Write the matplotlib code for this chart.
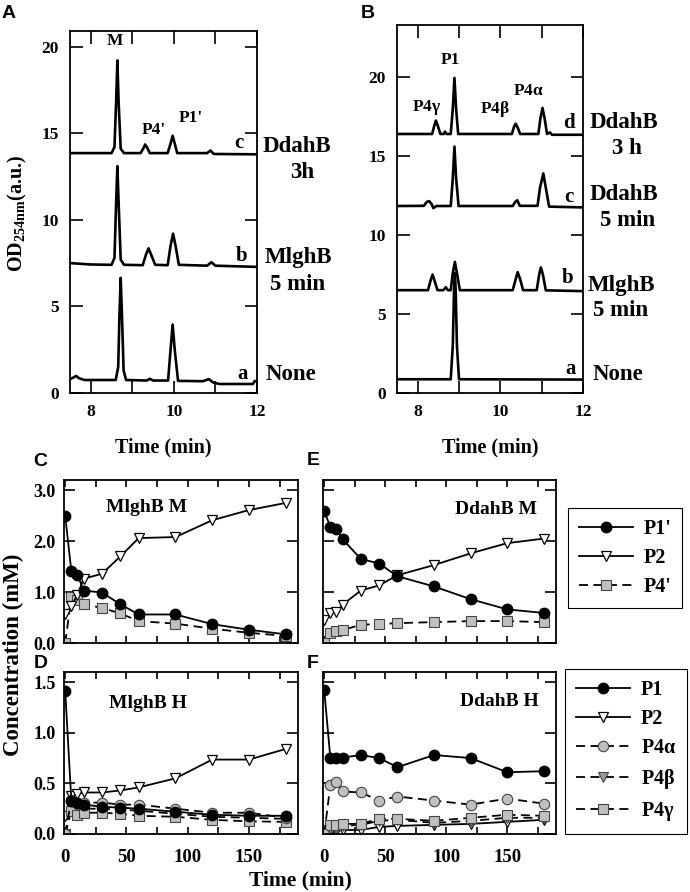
import matplotlib.pyplot as plt

plt.rcParams['font.family'] = ['Liberation Serif', 'DejaVu Serif']
plt.rcParams['font.weight'] = 'bold'
plt.rcParams['mathtext.fontset'] = 'custom'
plt.rcParams['mathtext.rm'] = 'Liberation Serif:bold'
plt.rcParams['mathtext.it'] = 'Liberation Serif:bold'
plt.rcParams['mathtext.bf'] = 'Liberation Serif:bold'
plt.rcParams['axes.linewidth'] = 1.3

W, H = 690, 892

# ---------------- chromatograms (panel A) ----------------
a_none_t = [7.5, 7.6, 7.65, 7.72, 7.85, 8.6, 8.66, 8.69, 8.72, 8.75, 8.79, 8.85, 9.35, 9.42, 9.5,
            9.86, 9.92, 9.97, 10.02, 10.1, 10.7, 10.84, 10.95, 11.1, 11.9, 11.95, 12.0]
a_none_v = [0.8, 0.92, 0.98, 0.85, 0.75, 0.75, 1.5, 4.5, 6.65, 4.5, 1.3, 0.75, 0.72, 0.82, 0.72,
            0.72, 2.5, 3.95, 2.5, 0.7, 0.68, 0.8, 0.6, 0.52, 0.52, 0.7, 0.65]
a_mlgh_t = [7.5, 8.0, 8.5, 8.57, 8.61, 8.64, 8.67, 8.72, 8.8, 9.25, 9.33, 9.39, 9.45, 9.55,
            9.85, 9.92, 9.98, 10.04, 10.12, 10.8, 10.9, 11.0, 12.0]
a_mlgh_v = [7.5, 7.42, 7.4, 7.8, 11.0, 13.1, 11.0, 7.7, 7.4, 7.38, 8.0, 8.35, 8.0, 7.4,
            7.38, 8.5, 9.2, 8.5, 7.4, 7.35, 7.55, 7.35, 7.28]
a_ddah_t = [7.5, 8.5, 8.57, 8.61, 8.64, 8.67, 8.72, 8.8, 9.2, 9.27, 9.31, 9.36, 9.42,
            9.85, 9.92, 9.97, 10.02, 10.08, 10.8, 10.88, 10.96, 12.0]
a_ddah_v = [13.85, 13.85, 14.2, 16.8, 19.2, 16.8, 14.1, 13.85, 13.85, 14.15, 14.35, 14.15, 13.85,
            13.85, 14.4, 14.85, 14.4, 13.85, 13.85, 14.0, 13.8, 13.78]

# ---------------- chromatograms (panel B) ----------------
b_none_t = [7.5, 8.8, 8.85, 8.88, 8.9, 8.92, 8.95, 9.0, 12.0]
b_none_v = [0.87, 0.87, 3.0, 6.5, 7.6, 6.5, 3.0, 0.87, 0.85]
b_mlgh_t = [7.5, 8.25, 8.31, 8.36, 8.41, 8.48, 8.62, 8.68, 8.73, 8.8, 8.85, 8.9, 8.95, 9.02,
            10.3, 10.37, 10.42, 10.48, 10.55, 10.88, 10.94, 10.98, 11.03, 11.1, 12.0]
b_mlgh_v = [6.51, 6.51, 7.1, 7.5, 7.1, 6.51, 6.51, 6.7, 6.51, 6.51, 7.6, 8.3, 7.6, 6.51,
            6.51, 7.2, 7.65, 7.2, 6.51, 6.51, 7.5, 7.95, 7.5, 6.5, 6.45]
b_dd5_t = [7.5, 8.15, 8.22, 8.28, 8.34, 8.38, 8.45, 8.8, 8.85, 8.89, 8.93, 8.99, 9.1,
           10.3, 10.36, 10.41, 10.47, 10.9, 10.96, 11.04, 11.1, 11.18, 12.0]
b_dd5_v = [11.84, 11.85, 12.1, 12.15, 11.95, 11.7, 11.84, 11.84, 13.6, 15.6, 13.6, 11.84, 11.84,
           11.84, 12.1, 12.2, 11.85, 11.85, 13.0, 13.9, 13.0, 11.8, 11.75]
b_dd3_t = [7.5, 8.35, 8.4, 8.44, 8.49, 8.55, 8.63, 8.66, 8.7, 8.8, 8.85, 8.89, 8.93, 8.98, 9.1,
           10.28, 10.33, 10.37, 10.42, 10.48, 10.92, 10.97, 11.02, 11.07, 11.13, 11.2, 11.25, 12.0]
b_dd3_v = [16.4, 16.4, 16.9, 17.25, 16.9, 16.4, 16.4, 16.55, 16.4, 16.4, 18.0, 19.95, 18.0, 16.4, 16.4,
           16.4, 16.85, 17.05, 16.8, 16.4, 16.4, 17.4, 18.05, 17.4, 16.4, 16.5, 16.35, 16.35]

# ---------------- kinetics (panels C-F) ----------------
times = [0, 5, 10, 15, 30, 45, 60, 90, 120, 150, 180]

c_p1 = [2.49, 1.41, 1.34, 1.03, 0.99, 0.76, 0.56, 0.56, 0.37, 0.26, 0.17]
c_p2 = [0.56, 0.72, 0.95, 1.26, 1.36, 1.70, 2.06, 2.08, 2.41, 2.61, 2.75]
c_p4 = [0.0, 0.90, 0.84, 0.76, 0.69, 0.58, 0.43, 0.38, 0.28, 0.20, 0.14]

e_p1 = [2.59, 2.28, 2.23, 2.04, 1.65, 1.56, 1.31, 1.11, 0.86, 0.66, 0.59]
e_p2 = [0.46, 0.58, 0.60, 0.75, 1.03, 1.13, 1.33, 1.53, 1.76, 1.96, 2.05]
e_p4 = [0.0, 0.20, 0.23, 0.25, 0.36, 0.37, 0.39, 0.41, 0.43, 0.43, 0.41]

d_p1 = [1.41, 0.33, 0.31, 0.29, 0.27, 0.26, 0.25, 0.22, 0.19, 0.18, 0.18]
d_p2 = [0.18, 0.38, 0.40, 0.41, 0.41, 0.43, 0.46, 0.55, 0.735, 0.735, 0.84]
d_p4a = [0.0, 0.34, 0.31, 0.31, 0.31, 0.29, 0.29, 0.25, 0.21, 0.21, 0.16]
d_p4b = [0.0, 0.27, 0.26, 0.25, 0.25, 0.24, 0.23, 0.20, 0.17, 0.16, 0.15]
d_p4g = [0.0, 0.23, 0.19, 0.21, 0.21, 0.20, 0.18, 0.17, 0.14, 0.125, 0.12]

f_p1 = [1.42, 0.755, 0.755, 0.755, 0.78, 0.75, 0.66, 0.78, 0.75, 0.61, 0.62]
f_p2 = [0.0, 0.02, 0.03, 0.04, 0.04, 0.07, 0.08, 0.09, 0.10, 0.12, 0.14]
f_p4a = [0.0, 0.48, 0.51, 0.42, 0.41, 0.33, 0.37, 0.33, 0.29, 0.35, 0.30]
f_p4b = [0.0, 0.05, 0.06, 0.08, 0.09, 0.13, 0.14, 0.11, 0.13, 0.16, 0.16]
f_p4g = [0.0, 0.085, 0.09, 0.10, 0.10, 0.15, 0.15, 0.13, 0.16, 0.19, 0.18]


def rect(left, top, right, bottom):
    # pixel box -> figure fraction
    return [left / W, 1 - bottom / H, (right - left) / W, (bottom - top) / H]


def ftext(x, y, s, **kw):
    fig.text(x / W, 1 - y / H, s, **kw)


fig = plt.figure(figsize=(W / 100, H / 100), dpi=100)


def chrom_axes(box, ymax):
    ax = fig.add_axes(box)
    ax.set_xlim(7.5, 12)
    ax.set_ylim(0, ymax)
    ax.set_xticks([8, 10, 12])
    ax.set_xticks([9, 11], minor=True)
    ax.set_yticks([0, 5, 10, 15, 20])
    ax.tick_params(which='both', direction='in', top=True, right=True,
                   length=9, width=1.2, labelsize=12.5, pad=8)
    return ax


axA = chrom_axes(rect(70, 31, 257, 393), 20.9)
for t, v in [(a_none_t, a_none_v), (a_mlgh_t, a_mlgh_v), (a_ddah_t, a_ddah_v)]:
    axA.plot(t, v, color='black', lw=1.9)
for x, y, s in [(8.58, 20.3, 'M'), (9.52, 15.2, "P4'"), (10.4, 15.86, "P1'")]:
    axA.text(x, y, s, ha='center', va='center', fontsize=12.5)
for x, y, s in [(11.56, 14.45, 'c'), (11.63, 7.9, 'b'), (11.66, 1.08, 'a')]:
    axA.text(x, y, s, ha='center', va='center', fontsize=15)
ftext(17, 213, r'OD$_{254nm}$(a.u.)', rotation=90, ha='center', va='center', fontsize=14.5)
ftext(163, 447, 'Time (min)', ha='center', va='center', fontsize=14.5)
for x, y, s in [(263, 147, 'DdahB'), (290, 173, '3h'), (265, 258, 'MlghB'),
                (270, 285, '5 min'), (266, 375, 'None')]:
    ftext(x, y, s, ha='left', va='center', fontsize=16.5)

axB = chrom_axes(rect(397, 25, 583, 393), 23.3)
for t, v in [(b_none_t, b_none_v), (b_mlgh_t, b_mlgh_v), (b_dd5_t, b_dd5_v), (b_dd3_t, b_dd3_v)]:
    axB.plot(t, v, color='black', lw=1.9)
for x, y, s in [(8.22, 18.1, r'P4$\gamma$'), (8.78, 21.1, 'P1'),
                (9.87, 17.97, r'P4$\beta$'), (10.68, 19.09, r'P4$\alpha$')]:
    axB.text(x, y, s, ha='center', va='center', fontsize=12.5)
for x, y, s in [(11.66, 17.12, 'd'), (11.66, 12.43, 'c'), (11.63, 7.25, 'b'), (11.71, 1.54, 'a')]:
    axB.text(x, y, s, ha='center', va='center', fontsize=15)
ftext(490, 447, 'Time (min)', ha='center', va='center', fontsize=14.5)
for x, y, s in [(590, 123, 'DdahB'), (612, 148, '3 h'), (590, 194, 'DdahB'), (600, 220, '5 min'),
                (588, 285, 'MlghB'), (593, 310, '5 min'), (593, 375, 'None')]:
    ftext(x, y, s, ha='left', va='center', fontsize=16.5)


def kin_axes(box, ymax, yticks, ylabels, xlabels):
    ax = fig.add_axes(box)
    ax.set_xlim(-1, 190)
    ax.set_ylim(0, ymax)
    ax.set_xticks(range(0, 176, 25))
    ax.set_xticklabels(['0', '', '50', '', '100', '', '150', ''] if xlabels else [])
    ax.set_yticks(yticks)
    ax.set_yticklabels(['%.1f' % y for y in yticks] if ylabels else [])
    ax.tick_params(axis='x', direction='in', top=True, length=5, width=1.2, labelsize=13.5, pad=11)
    ax.tick_params(axis='y', direction='in', right=True, length=8, width=1.2, labelsize=13, pad=6)
    return ax


black_c = dict(marker='o', color='black', mfc='black', mec='black', ms=7.5, lw=1.3)
white_t = dict(marker='v', color='black', mfc='white', mec='black', ms=7.5, mew=0.9, lw=1.3)
grey_c = dict(marker='o', color='black', mfc='#bfbfbf', mec='#444444', ms=7.5, mew=0.8,
              lw=1.3, ls=(0, (5, 3)))
grey_t = dict(marker='v', color='black', mfc='#9a9a9a', mec='#444444', ms=7, mew=0.8,
              lw=1.3, ls=(0, (5, 3)))
grey_s = dict(marker='s', color='black', mfc='#bfbfbf', mec='#444444', ms=6.5, mew=0.8,
              lw=1.3, ls=(0, (5, 3)))

axC = kin_axes(rect(64, 480, 298, 643), 3.2, [0, 1, 2, 3], True, False)
axE = kin_axes(rect(323, 480, 556, 643), 3.2, [0, 1, 2, 3], False, False)
axD = kin_axes(rect(64, 672, 298, 834), 1.6, [0, 0.5, 1.0, 1.5], True, True)
axF = kin_axes(rect(323, 672, 556, 834), 1.6, [0, 0.5, 1.0, 1.5], False, True)

for ax, p1, p2, p4 in [(axC, c_p1, c_p2, c_p4), (axE, e_p1, e_p2, e_p4)]:
    hs = ax.plot(times, p4, **grey_s)
    h2 = ax.plot(times, p2, **white_t)
    h1 = ax.plot(times, p1, **black_c)
legM = [h1[0], h2[0], hs[0]]

for ax, p1, p2, pa, pb, pg in [(axD, d_p1, d_p2, d_p4a, d_p4b, d_p4g),
                               (axF, f_p1, f_p2, f_p4a, f_p4b, f_p4g)]:
    h2 = ax.plot(times, p2, **white_t)
    hb = ax.plot(times, pb, **grey_t)
    hg = ax.plot(times, pg, **grey_s)
    ha_ = ax.plot(times, pa, **grey_c)
    h1 = ax.plot(times, p1, **black_c)
legH = [h1[0], h2[0], ha_[0], hb[0], hg[0]]

# panel titles inside the kinetics boxes
ftext(147, 507, 'MlghB M', ha='center', va='center', fontsize=14)
ftext(496, 510, 'DdahB M', ha='center', va='center', fontsize=14)
ftext(148, 703, 'MlghB H', ha='center', va='center', fontsize=14)
ftext(499, 702, 'DdahB H', ha='center', va='center', fontsize=14)

ftext(13, 655, 'Concentration (mM)', rotation=90, ha='center', va='center', fontsize=16.5)
ftext(300, 880, 'Time (min)', ha='center', va='center', fontsize=15.5)

for x, y, s in [(9, 14, 'A'), (368, 14, 'B'), (40, 461, 'C'), (313, 460, 'E'),
                (41, 663, 'D'), (313, 663, 'F')]:
    ftext(x, y, s, ha='center', va='center', fontsize=14, family='Liberation Sans',
          weight='bold')

for handles, labels, top, left in [(legM, ["P1'", 'P2', "P4'"], 508, 568),
                                   (legH, ['P1', 'P2', r'P4$\alpha$', r'P4$\beta$', r'P4$\gamma$'], 669, 565)]:
    leg = fig.legend(handles, labels, loc='upper left', bbox_to_anchor=(left / W, 1 - top / H),
                     fontsize=14.5, handlelength=2.7, handletextpad=0.5, borderpad=0.55,
                     labelspacing=0.45, borderaxespad=0, fancybox=False, framealpha=1)
    leg.get_frame().set_edgecolor('black')
    leg.get_frame().set_linewidth(0.8)

fig.savefig('out.png', dpi=100)
